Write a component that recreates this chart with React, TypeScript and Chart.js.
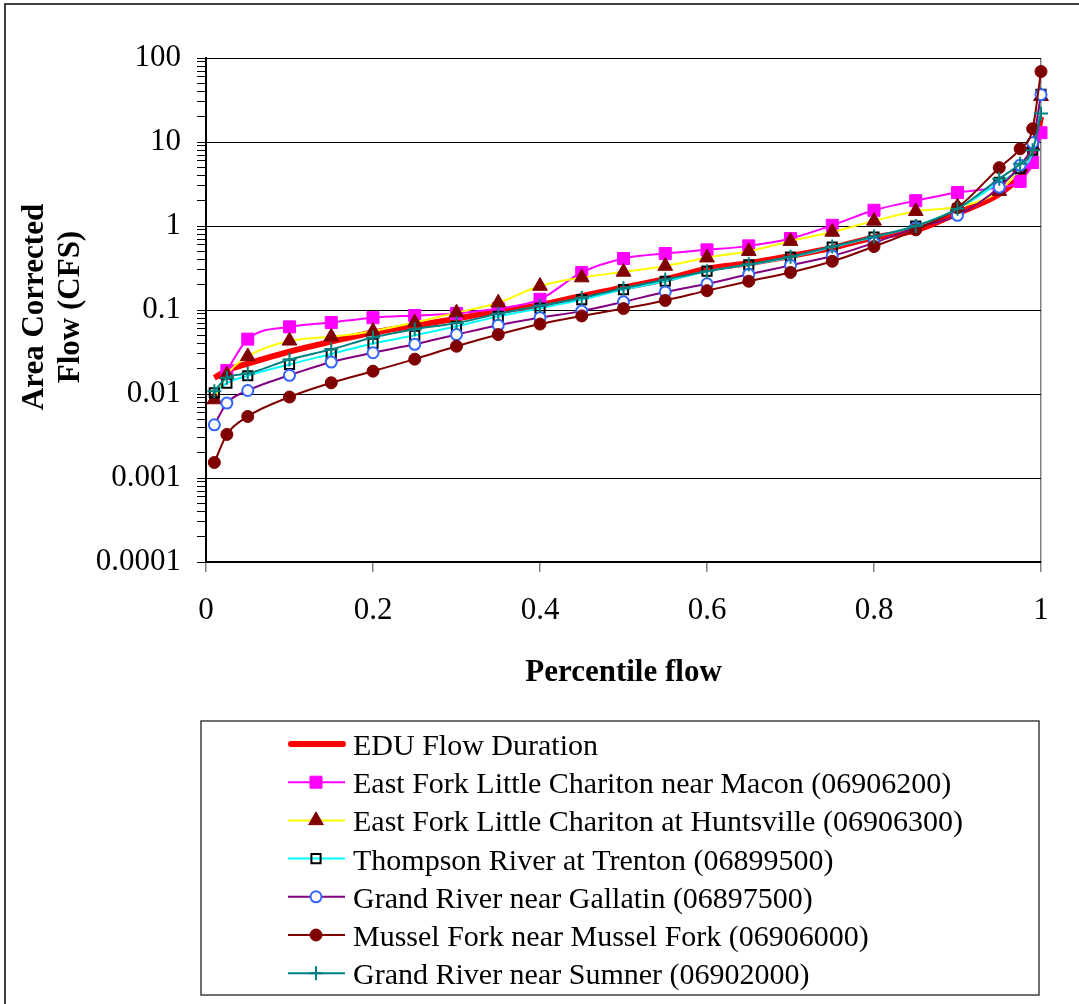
import React, { useEffect, useRef } from 'react';
import { Chart, registerables } from 'chart.js';

Chart.register(...registerables);

// ---------- data ----------
const percentiles = [0.01, 0.025, 0.05, 0.1, 0.15, 0.2, 0.25, 0.3, 0.35, 0.4, 0.45, 0.5, 0.55, 0.6, 0.65, 0.7, 0.75, 0.8, 0.85, 0.9, 0.95, 0.975, 0.99, 1.0];

const eduFlow = [0.0156, 0.019, 0.023, 0.032, 0.042, 0.054, 0.065, 0.079, 0.097, 0.114, 0.147, 0.185, 0.232, 0.31, 0.36, 0.44, 0.55, 0.73, 0.89, 1.42, 2.4, 3.9, 6.4, 20];
const macon = [null, 0.019, 0.045, 0.063, 0.071, 0.081, 0.086, 0.091, 0.104, 0.134, 0.28, 0.41, 0.47, 0.52, 0.58, 0.71, 1.02, 1.54, 2.0, 2.5, 2.9, 3.4, 5.7, 12.9];
const huntsville = [0.0086, 0.017, 0.028, 0.043, 0.048, 0.056, 0.071, 0.093, 0.122, 0.193, 0.243, 0.284, 0.334, 0.42, 0.5, 0.66, 0.85, 1.15, 1.5, 1.7, 2.6, 5.0, 9.0, 35];
const thompson = [0.0103, 0.0135, 0.0165, 0.0225, 0.03, 0.04, 0.05, 0.064, 0.084, 0.105, 0.133, 0.175, 0.22, 0.29, 0.345, 0.425, 0.56, 0.74, 1.0, 1.6, 3.3, 4.8, 8.0, 37];
const gallatin = [0.0043, 0.0078, 0.011, 0.0167, 0.024, 0.031, 0.039, 0.051, 0.066, 0.081, 0.097, 0.125, 0.164, 0.205, 0.266, 0.34, 0.44, 0.63, 0.95, 1.34, 2.9, 5.3, 9.8, 36.6];
const musselFork = [0.00153, 0.0033, 0.0054, 0.0092, 0.0136, 0.0187, 0.026, 0.037, 0.051, 0.068, 0.085, 0.104, 0.13, 0.17, 0.22, 0.28, 0.38, 0.57, 0.9, 1.65, 4.95, 8.3, 14.4, 69];
const sumner = [0.0108, 0.0156, 0.0175, 0.0257, 0.034, 0.047, 0.059, 0.07, 0.09, 0.112, 0.14, 0.182, 0.23, 0.29, 0.35, 0.43, 0.57, 0.75, 1.0, 1.6, 3.66, 5.5, 8.0, 21.8];

const seriesNames = [
  'EDU Flow Duration',
  'East Fork Little Chariton near Macon (06906200)',
  'East Fork Little Chariton at Huntsville (06906300)',
  'Thompson River at Trenton (06899500)',
  'Grand River near Gallatin (06897500)',
  'Mussel Fork near Mussel Fork (06906000)',
  'Grand River near Sumner (06902000)',
];

const yDecades = [0.0001, 0.001, 0.01, 0.1, 1, 10, 100];
const xTickValues = [0, 0.2, 0.4, 0.6, 0.8, 1];

const xTitle = 'Percentile flow';
const yTitleLines = ['Area Corrected', 'Flow (CFS)'];

// ---------- helpers ----------
const SERIF = "'Liberation Serif', 'Times New Roman', serif";

function toPoints(vals: (number | null)[]) {
  const pts: { x: number; y: number }[] = [];
  vals.forEach((v, i) => {
    if (v !== null) pts.push({ x: percentiles[i], y: v });
  });
  return pts;
}

function drawMarker(ctx: CanvasRenderingContext2D, style: string, x: number, y: number, r: number, fill: string, stroke: string, lw: number) {
  if (r <= 0) return;
  ctx.save();
  ctx.lineWidth = lw;
  ctx.strokeStyle = stroke;
  ctx.fillStyle = fill;
  ctx.beginPath();
  if (style === 'rect') {
    const s = r * Math.SQRT1_2;
    ctx.rect(x - s, y - s, 2 * s, 2 * s);
    ctx.fill();
    ctx.stroke();
  } else if (style === 'triangle') {
    ctx.moveTo(x, y - r);
    ctx.lineTo(x + r * 0.8660254, y + r * 0.5);
    ctx.lineTo(x - r * 0.8660254, y + r * 0.5);
    ctx.closePath();
    ctx.fill();
    ctx.stroke();
  } else if (style === 'circle') {
    ctx.arc(x, y, r, 0, Math.PI * 2);
    ctx.fill();
    ctx.stroke();
  } else if (style === 'cross') {
    ctx.moveTo(x, y - r);
    ctx.lineTo(x, y + r);
    ctx.moveTo(x - r, y);
    ctx.lineTo(x + r, y);
    ctx.stroke();
  }
  ctx.restore();
}

const decorPlugin = {
  id: 'decor',
  beforeDraw(chart: any) {
    const ctx: CanvasRenderingContext2D = chart.ctx;
    ctx.save();
    ctx.fillStyle = '#ffffff';
    ctx.fillRect(0, 0, chart.width, chart.height);
    ctx.strokeStyle = '#000000';
    ctx.lineWidth = 1.5;
    ctx.strokeRect(5, 4, chart.width + 20, chart.height + 20);
    ctx.restore();
  },
  afterDraw(chart: any) {
    const ctx: CanvasRenderingContext2D = chart.ctx;
    ctx.save();
    // axis titles
    ctx.fillStyle = '#000';
    ctx.font = `bold 31px ${SERIF}`;
    ctx.textAlign = 'center';
    ctx.textBaseline = 'alphabetic';
    const area = chart.chartArea;
    ctx.fillText(xTitle, (area.left + area.right) / 2, 681);
    const yc = 307;
    const baselines = [43, 79];
    yTitleLines.forEach((line, i) => {
      ctx.save();
      ctx.translate(baselines[i], yc);
      ctx.rotate(-Math.PI / 2);
      ctx.fillText(line, 0, 0);
      ctx.restore();
    });

    // legend box
    ctx.strokeStyle = '#404040';
    ctx.lineWidth = 1.5;
    ctx.strokeRect(201, 721, 838, 274);
    const ds = chart.data.datasets;
    ctx.font = `30px ${SERIF}`;
    ctx.textAlign = 'left';
    ds.forEach((d: any, i: number) => {
      const cy = 744 + i * 38.2;
      ctx.save();
      ctx.strokeStyle = d.borderColor;
      ctx.lineWidth = d.borderWidth;
      ctx.lineCap = i === 0 ? 'round' : 'butt';
      ctx.beginPath();
      ctx.moveTo(i === 0 ? 291 : 288, cy);
      ctx.lineTo(i === 0 ? 343 : 345, cy);
      ctx.stroke();
      ctx.restore();
      drawMarker(ctx, d.pointStyle, 316, cy, d.pointRadius, d.pointBackgroundColor, d.pointBorderColor, d.pointBorderWidth);
      ctx.fillStyle = '#000';
      ctx.fillText(d.label, 353, cy + 11);
    });
    ctx.restore();
  },
};

export default function App() {
  const canvasRef = useRef<HTMLCanvasElement | null>(null);

  useEffect(() => {
    if (!canvasRef.current) return;
    const seriesValues = [eduFlow, macon, huntsville, thompson, gallatin, musselFork, sumner];
    const look = [
      { borderColor: '#FF0000', borderWidth: 6, pointStyle: 'circle', pointRadius: 0, pointBackgroundColor: '#FF0000', pointBorderColor: '#FF0000', pointBorderWidth: 1 },
      { borderColor: '#FF00FF', borderWidth: 2, pointStyle: 'rect', pointRadius: 8.5, pointBackgroundColor: '#FF00FF', pointBorderColor: '#FF00FF', pointBorderWidth: 1 },
      { borderColor: '#FFFF00', borderWidth: 2, pointStyle: 'triangle', pointRadius: 8.5, pointBackgroundColor: '#800000', pointBorderColor: '#800000', pointBorderWidth: 1 },
      { borderColor: '#00FFFF', borderWidth: 2, pointStyle: 'rect', pointRadius: 6.5, pointBackgroundColor: 'rgba(0,0,0,0)', pointBorderColor: '#000000', pointBorderWidth: 2 },
      { borderColor: '#800080', borderWidth: 2, pointStyle: 'circle', pointRadius: 5.5, pointBackgroundColor: '#FFFFFF', pointBorderColor: '#3366FF', pointBorderWidth: 2 },
      { borderColor: '#800000', borderWidth: 2, pointStyle: 'circle', pointRadius: 6, pointBackgroundColor: '#800000', pointBorderColor: '#800000', pointBorderWidth: 1 },
      { borderColor: '#008080', borderWidth: 2, pointStyle: 'cross', pointRadius: 7, pointBackgroundColor: '#008080', pointBorderColor: '#008080', pointBorderWidth: 2 },
    ];
    const datasets = seriesValues.map((vals, i) => ({
      label: seriesNames[i],
      data: toPoints(vals),
      showLine: true,
      cubicInterpolationMode: 'monotone' as const,
      clip: false as any,
      order: 10 - i,
      pointHoverRadius: look[i].pointRadius,
      ...look[i],
    }));

    const chart = new Chart(canvasRef.current, {
      type: 'scatter',
      data: { datasets: datasets as any },
      plugins: [decorPlugin as any],
      options: {
        responsive: false,
        animation: false,
        devicePixelRatio: 1,
        events: [],
        layout: { padding: { left: 0, top: 58, right: 38, bottom: 342 } },
        plugins: { legend: { display: false }, tooltip: { enabled: false } },
        scales: {
          x: {
            type: 'linear',
            min: 0,
            max: 1,
            afterFit: (s: any) => { s.height = 100; },
            afterBuildTicks: (s: any) => { s.ticks = xTickValues.map((v) => ({ value: v })); },
            border: { display: true, color: '#000000', width: 1.5 },
            grid: {
              drawTicks: true,
              tickLength: 10,
              tickColor: '#808080',
              tickWidth: 1.5,
              lineWidth: 1.5,
              color: (c: any) => (c.tick && c.tick.value === 1 ? '#808080' : 'rgba(0,0,0,0)'),
            },
            ticks: {
              autoSkip: false,
              maxRotation: 0,
              padding: 20,
              color: '#000',
              font: { family: SERIF, size: 31 },
              callback: (v: any) => String(Math.round(Number(v) * 10) / 10),
            },
          },
          y: {
            type: 'logarithmic',
            min: 0.0001,
            max: 100,
            afterFit: (s: any) => { s.width = 206; },
            afterBuildTicks: (s: any) => {
              const t: any[] = [];
              for (let e = -4; e <= 2; e++) {
                const d = yDecades[e + 4];
                t.push({ value: d, major: true });
                if (e < 2) {
                  for (let m = 2; m <= 9; m++) t.push({ value: m * d, major: false });
                }
              }
              s.ticks = t;
            },
            border: { display: true, color: '#000000', width: 2 },
            grid: {
              drawTicks: true,
              tickLength: 9,
              tickColor: '#000000',
              tickWidth: 1,
              lineWidth: 1,
              color: (c: any) => (c.tick && yDecades.includes(c.tick.value) ? '#000000' : 'rgba(0,0,0,0)'),
            },
            ticks: {
              autoSkip: false,
              padding: 16,
              color: '#000',
              font: { family: SERIF, size: 31 },
              callback: (v: any) => (yDecades.includes(Number(v)) ? String(v) : ''),
            },
          },
        },
      },
    });
    return () => chart.destroy();
  }, []);

  return (
    <div style={{ position: 'absolute', left: 0, top: 0, width: 1079, height: 1004, background: '#fff' }}>
      <canvas ref={canvasRef} width={1079} height={1004} style={{ display: 'block', width: 1079, height: 1004 }} />
    </div>
  );
}
